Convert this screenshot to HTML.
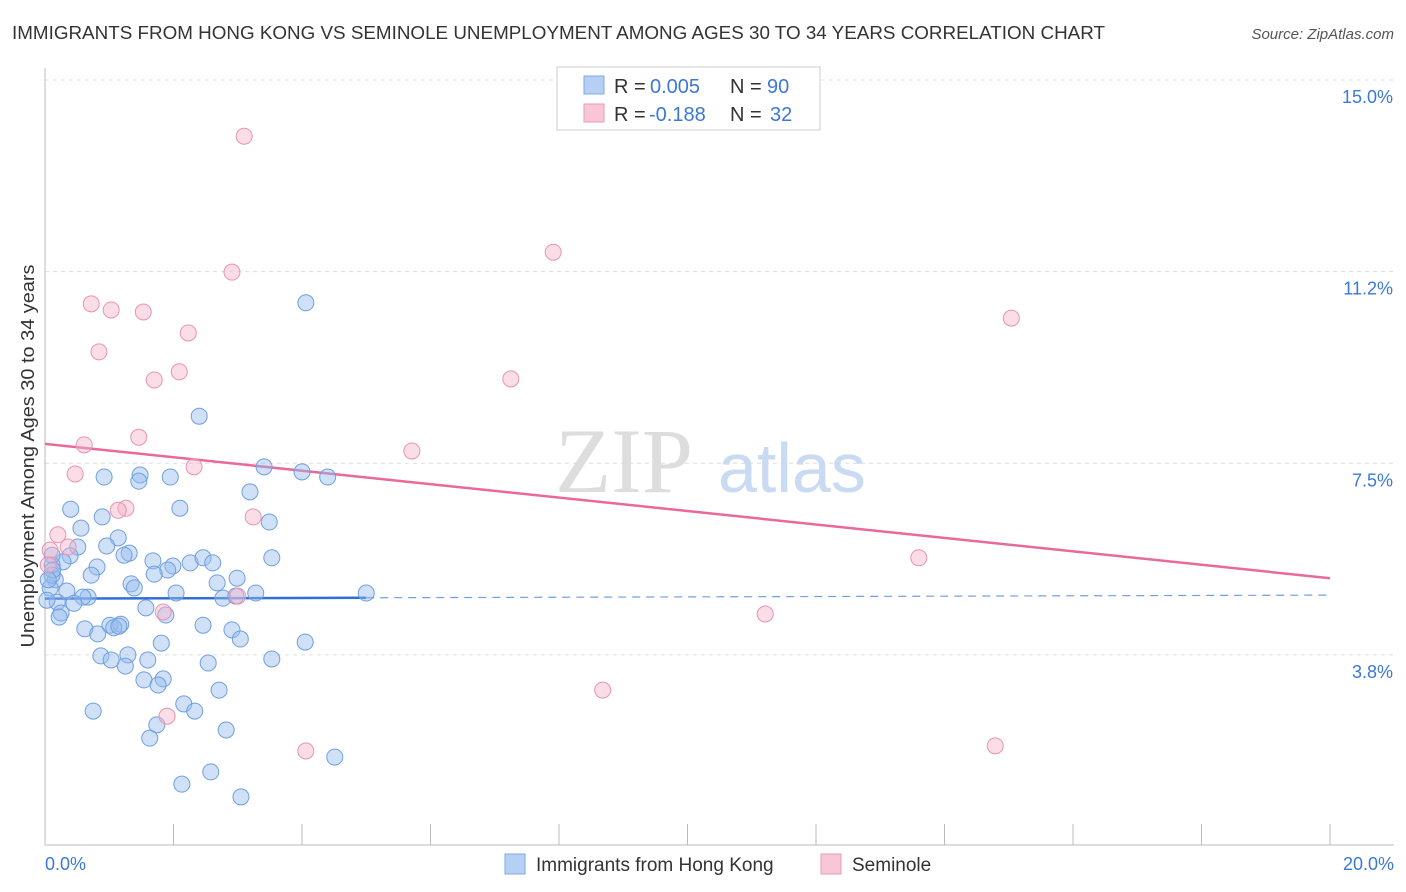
<!DOCTYPE html>
<html><head><meta charset="utf-8">
<style>
body{margin:0;background:#fff;font-family:"Liberation Sans",sans-serif;}
svg{display:block}
</style></head>
<body>
<svg id="chart" width="1406" height="892" viewBox="0 0 1406 892" xmlns="http://www.w3.org/2000/svg">
<text x="12" y="39" font-size="18.5" fill="#333" textLength="1093" lengthAdjust="spacingAndGlyphs">IMMIGRANTS FROM HONG KONG VS SEMINOLE UNEMPLOYMENT AMONG AGES 30 TO 34 YEARS CORRELATION CHART</text>
<text x="1394" y="39" font-size="15" fill="#555" font-style="italic" text-anchor="end">Source: ZipAtlas.com</text>
<g id="grid"></g>
<g><text x="555" y="492" font-size="92" fill="#ddd" font-family="Liberation Serif,serif">ZIP</text><text x="718" y="492" font-size="70" fill="#c9daf3">atlas</text></g>
<line x1="45" y1="68" x2="45" y2="845" stroke="#bbb"/>
<line x1="45" y1="845" x2="1394" y2="845" stroke="#bbb"/>
<g id="xticks"></g>
<g id="ylabels"></g>
<text x="45" y="870" font-size="18" fill="#3b78d8">0.0%</text>
<text x="1394" y="870" font-size="18" fill="#3b78d8" text-anchor="end">20.0%</text>
<text transform="translate(34,456) rotate(-90)" font-size="18.5" fill="#333" text-anchor="middle" textLength="383" lengthAdjust="spacingAndGlyphs">Unemployment Among Ages 30 to 34 years</text>
<g id="lines"></g>
<g id="pts"></g>
<g>
<rect x="557" y="67" width="263" height="63" fill="#fff" stroke="#ccc"/>
<rect x="584" y="76" width="20" height="18" fill="#b6d0f3" stroke="#7fa8e6"/>
<rect x="584" y="104" width="20" height="18" fill="#f8c6d6" stroke="#ec9ab6"/>
<text x="614" y="93" font-size="20" fill="#333">R = <tspan x="650" fill="#3b78d8">0.005</tspan><tspan x="730">N = </tspan><tspan x="767" fill="#3b78d8">90</tspan></text>
<text x="614" y="121" font-size="20" fill="#333">R = <tspan x="649" fill="#3b78d8">-0.188</tspan><tspan x="730">N = </tspan><tspan x="770" fill="#3b78d8">32</tspan></text>
</g>
<g>
<rect x="505" y="854" width="20" height="20" fill="#b6d0f3" stroke="#7fa8e6"/>
<text x="536" y="871" font-size="19" fill="#333">Immigrants from Hong Kong</text>
<rect x="821" y="854" width="20" height="20" fill="#f8c6d6" stroke="#ec9ab6"/>
<text x="852" y="871" font-size="19" fill="#333">Seminole</text>
</g>
</svg>
<script>
const yTicks=[3.75,7.5,11.25,15];
const yTickLabels=["3.8%","7.5%","11.2%","15.0%"];
const xTicks=[0,2,4,6,8,10,12,14,16,18,20];
const blueX=[4.06,2.40,3.41,4.00,4.40,0.92,1.48,1.95,1.46,3.19,0.40,2.10,0.89,3.49,0.56,1.14,0.51,0.96,1.31,1.23,1.68,0.39,0.28,0.11,0.81,2.26,2.46,2.61,3.53,1.99,1.91,1.70,0.72,2.99,0.16,1.34,1.39,2.68,0.08,0.34,2.04,3.28,5.00,2.77,0.67,0.59,2.97,0.19,0.45,1.57,0.25,1.88,1.01,1.18,1.07,1.15,2.46,0.22,0.62,0.82,2.91,3.04,4.05,1.81,0.87,1.03,1.29,1.60,1.25,2.54,3.53,1.54,1.84,1.76,2.71,2.16,2.33,0.75,1.74,2.82,1.63,4.51,2.58,2.13,3.05,0.11,0.11,0.03,0.12,0.05];
const blueY=[10.64,8.42,7.43,7.33,7.23,7.23,7.27,7.23,7.15,6.94,6.60,6.62,6.45,6.35,6.23,6.04,5.86,5.88,5.74,5.70,5.59,5.69,5.57,5.51,5.47,5.55,5.65,5.55,5.65,5.49,5.41,5.33,5.31,5.25,5.22,5.14,5.06,5.16,5.06,5.00,4.96,4.96,4.96,4.86,4.88,4.88,4.90,4.78,4.76,4.67,4.57,4.53,4.33,4.35,4.28,4.31,4.33,4.49,4.26,4.16,4.24,4.06,4.00,3.98,3.73,3.65,3.75,3.65,3.53,3.59,3.67,3.26,3.28,3.16,3.06,2.79,2.65,2.65,2.38,2.28,2.12,1.75,1.46,1.22,0.97,5.70,5.31,4.82,5.41,5.22];
const pinkX=[3.10,7.91,2.91,15.04,0.72,1.03,1.53,2.23,0.84,2.09,1.70,7.25,1.46,0.61,5.71,2.32,0.47,1.26,1.14,3.24,0.20,0.36,0.08,13.60,1.84,3.00,11.21,8.68,1.90,4.06,14.79,0.05];
const pinkY=[13.90,11.63,11.24,10.34,10.62,10.50,10.46,10.05,9.68,9.29,9.13,9.15,8.01,7.86,7.74,7.43,7.29,6.62,6.58,6.45,6.10,5.86,5.80,5.65,4.59,4.90,4.55,3.06,2.55,1.87,1.97,5.51];
const blueTrend=[4.85,4.92];
const pinkTrend=[7.88,5.25];
const NS="http://www.w3.org/2000/svg";
function sx(v){return 45+v*(1330-45)/20;}
function sy(v){return 80+(15-v)*51.1;}
function mk(tag,attrs,parent){const e=document.createElementNS(NS,tag);for(const k in attrs)e.setAttribute(k,attrs[k]);parent.appendChild(e);return e;}
const grid=document.getElementById('grid'),yl=document.getElementById('ylabels'),xt=document.getElementById('xticks');
yTicks.forEach((t,i)=>{
 const l=mk('line',{x1:45,x2:1394,y1:sy(t),y2:sy(t),stroke:'#ddd','stroke-dasharray':'4,4'},grid);
 
 
 const tx=mk('text',{x:1393,y:sy(t)+23,'font-size':18,fill:'#3b78d8','text-anchor':'end'},yl);
 tx.textContent=yTickLabels[i];
 
 
});
xTicks.forEach(t=>{
 const l=mk('line',{x1:sx(t),x2:sx(t),y1:824,y2:845,stroke:'#bbb'},xt);
 
 
});
const pts=document.getElementById('pts');
blueX.forEach((x,i)=>{
 const c=mk('circle',{cx:sx(x),cy:sy(blueY[i]),r:8,fill:'rgba(150,188,238,0.45)',stroke:'#6f9fe0','stroke-width':1},pts);
 
 
});
pinkX.forEach((x,i)=>{
 const c=mk('circle',{cx:sx(x),cy:sy(pinkY[i]),r:8,fill:'rgba(244,180,202,0.45)',stroke:'#ea93b1','stroke-width':1},pts);
 
 
});
const lines=document.getElementById('lines');
const bAt=v=>blueTrend[0]+(blueTrend[1]-blueTrend[0])*v/20;
const b1=mk('line',{x1:sx(0),y1:sy(bAt(0)),x2:sx(5),y2:sy(bAt(5)),stroke:'#2f6fd6','stroke-width':2.5},lines);


const b2=mk('line',{x1:sx(5),y1:sy(bAt(5)),x2:sx(20),y2:sy(bAt(20)),stroke:'#6f9fe0','stroke-width':1.2,'stroke-dasharray':'8,6'},lines);


const p1=mk('line',{x1:sx(0),y1:sy(pinkTrend[0]),x2:sx(20),y2:sy(pinkTrend[1]),stroke:'#e8699a','stroke-width':2.5},lines);


</script>
</body></html>
